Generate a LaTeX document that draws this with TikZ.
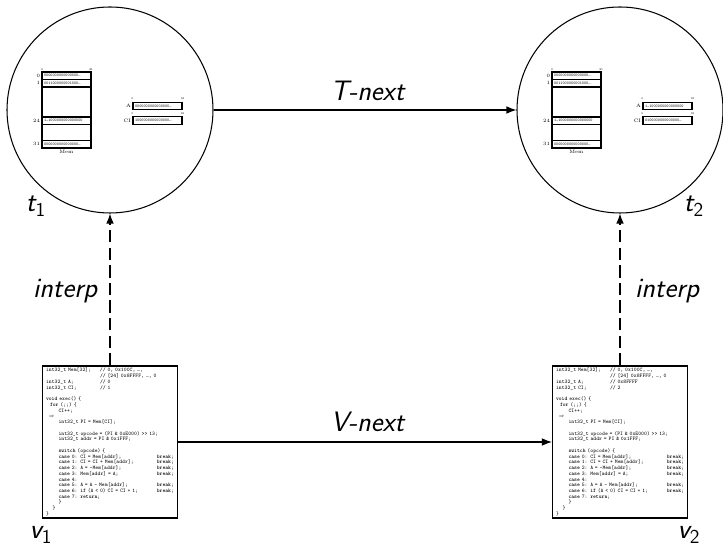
\documentclass[tikz,border=0pt]{standalone}
\usetikzlibrary{arrows.meta}

\tikzset{
  lbl/.style={inner sep=0pt,anchor=base,font=\fontsize{16}{19}\selectfont\sffamily\itshape},
  state/.style={circle,draw,semithick,minimum size=4.12cm,inner sep=0pt},
  codebox/.style={draw,semithick,minimum width=2.7cm,minimum height=3.04cm,
    text width=2.56cm,align=left,inner xsep=0.07cm,inner ysep=0pt,
    font=\fontsize{3.1}{3.27}\selectfont\ttfamily},
  bitrow/.style={draw,thick,text width=0.9cm,inner xsep=0.04cm,inner ysep=0pt,
    minimum height=0.15cm,align=left,font=\fontsize{2.3}{2.5}\selectfont\ttfamily},
  tinylbl/.style={inner sep=0.6pt,font=\fontsize{2.8}{3}\selectfont},
  bitidx/.style={inner sep=0.3pt,font=\fontsize{1.6}{2}\selectfont},
  nextarrow/.style={-{Latex[length=2mm,width=1.5mm]},semithick},
  interparrow/.style={nextarrow,dash pattern=on 7pt off 3pt},
}

% one machine state inside a circle: #1 circle, #2 A bits, #3 CI bits
\newcommand{\memstate}[3]{%
  \begin{scope}[shift={(#1.center)}]
    \draw[thick] (-1.36,-0.76) rectangle (-0.38,0.76);
    \node[bitrow] (#1-r0) at (-0.87,0.685) {0000000000000000\ldots};
    \node[bitrow] (#1-r1) at (-0.87,0.535) {0011000000001000\ldots};
    \node[bitrow] (#1-r24) at (-0.87,-0.215) {1\ldots1000000000000000};
    \node[bitrow] (#1-r31) at (-0.87,-0.685) {0000000000000000\ldots};
    \node[tinylbl,anchor=east] (#1-i0) at (#1-r0.west) {0};
    \node[tinylbl,anchor=east] (#1-i1) at (#1-r1.west) {1};
    \node[tinylbl,anchor=east] (#1-i24) at (#1-r24.west) {24};
    \node[tinylbl,anchor=east] (#1-i31) at (#1-r31.west) {31};
    \node[bitidx,anchor=south] (#1-b0) at (-1.36,0.78) {0};
    \node[bitidx,anchor=south] (#1-b31) at (-0.38,0.78) {31};
    \node[tinylbl,anchor=north] (#1-mem) at (-0.87,-0.78) {Mem};
    \node[bitrow] (#1-A) at (0.95,0.08) {#2};
    \node[bitrow] (#1-CI) at (0.95,-0.21) {#3};
    \node[tinylbl,anchor=east] (#1-la) at (#1-A.west) {A};
    \node[tinylbl,anchor=east] (#1-lci) at (#1-CI.west) {CI};
    \node[bitidx,anchor=south] (#1-a0) at ([yshift=0.5pt]#1-A.north west) {0};
    \node[bitidx,anchor=south] (#1-a31) at ([yshift=0.5pt]#1-A.north east) {31};
    \node[bitidx,anchor=south] (#1-c0) at ([yshift=0.5pt]#1-CI.north west) {0};
    \node[bitidx,anchor=south] (#1-c31) at ([yshift=0.5pt]#1-CI.north east) {31};
  \end{scope}}

% the C program with the values of A and CI in its comments
\newcommand{\vcode}[2]{%
\makebox[1.08cm][l]{int32\_t Mem[32];}// 0, 0x100C, \ldots,\\
\makebox[1.08cm][l]{}// [24] 0x8FFFF, \ldots, 0\\
\makebox[1.08cm][l]{int32\_t A;}// #1\\
\makebox[1.08cm][l]{int32\_t CI;}// #2\\
\mbox{}\\
\textbf{void} exec() \{\\
\hspace*{0.08cm}\textbf{for} (;;) \{\\
\hspace*{0.25cm}CI++;\\
\hspace*{0.05cm}\scalebox{0.5}{$\Rightarrow$}\\
\hspace*{0.25cm}int32\_t PI = Mem[CI];\\
\mbox{}\\
\hspace*{0.25cm}int32\_t opcode = (PI \& 0xE000) >> 13;\\
\hspace*{0.25cm}int32\_t addr = PI \& 0x1FFF;\\
\mbox{}\\
\hspace*{0.25cm}\textbf{switch} (opcode) \{\\
\hspace*{0.25cm}\textbf{case} 0: CI = Mem[addr];\hfill\textbf{break};\\
\hspace*{0.25cm}\textbf{case} 1: CI = CI + Mem[addr];\hfill\textbf{break};\\
\hspace*{0.25cm}\textbf{case} 2: A = -Mem[addr];\hfill\textbf{break};\\
\hspace*{0.25cm}\textbf{case} 3: Mem[addr] = A;\hfill\textbf{break};\\
\hspace*{0.25cm}\textbf{case} 4:\\
\hspace*{0.25cm}\textbf{case} 5: A = A - Mem[addr];\hfill\textbf{break};\\
\hspace*{0.25cm}\textbf{case} 6: \textbf{if} (A < 0) CI = CI + 1;\hfill\textbf{break};\\
\hspace*{0.25cm}\textbf{case} 7: \textbf{return};\\
\hspace*{0.25cm}\}\\
\hspace*{0.13cm}\}\\
\}}

\begin{document}
\begin{tikzpicture}[x=1cm,y=1cm]
\useasboundingbox (0,0) rectangle (14.46,10.94);

\node[state] (t1) at (2.2,8.74) {};
\node[state] (t2) at (12.4,8.74) {};
\memstate{t1}{0000000000000000\ldots}{1000000000000000\ldots}
\memstate{t2}{1\ldots1000000000000000}{0100000000000000\ldots}

\node[codebox] (v1) at (2.2,2.1) {\vcode{0}{1}};
\node[codebox] (v2) at (12.4,2.1) {\vcode{0x8FFFF}{2}};

\draw[nextarrow] (t1) -- (t2);
\draw[nextarrow] (v1) -- (v2);
\draw[interparrow] (v1) -- (t1);
\draw[interparrow] (v2) -- (t2);

\node[lbl] (tnext) at (7.35,8.92) {T-next};
\node[lbl] (vnext) at (7.35,2.3) {V-next};
\node[lbl] (interp1) at (1.3,4.98) {interp};
\node[lbl] (interp2) at (13.34,4.98) {interp};
\node[lbl] (t1lbl) at (0.72,6.7) {t\textsubscript{\upshape 1}};
\node[lbl] (t2lbl) at (13.88,6.7) {t\textsubscript{\upshape 2}};
\node[lbl] (v1lbl) at (0.82,0.17) {v\textsubscript{\upshape 1}};
\node[lbl] (v2lbl) at (13.78,0.17) {v\textsubscript{\upshape 2}};
\end{tikzpicture}
\end{document}
